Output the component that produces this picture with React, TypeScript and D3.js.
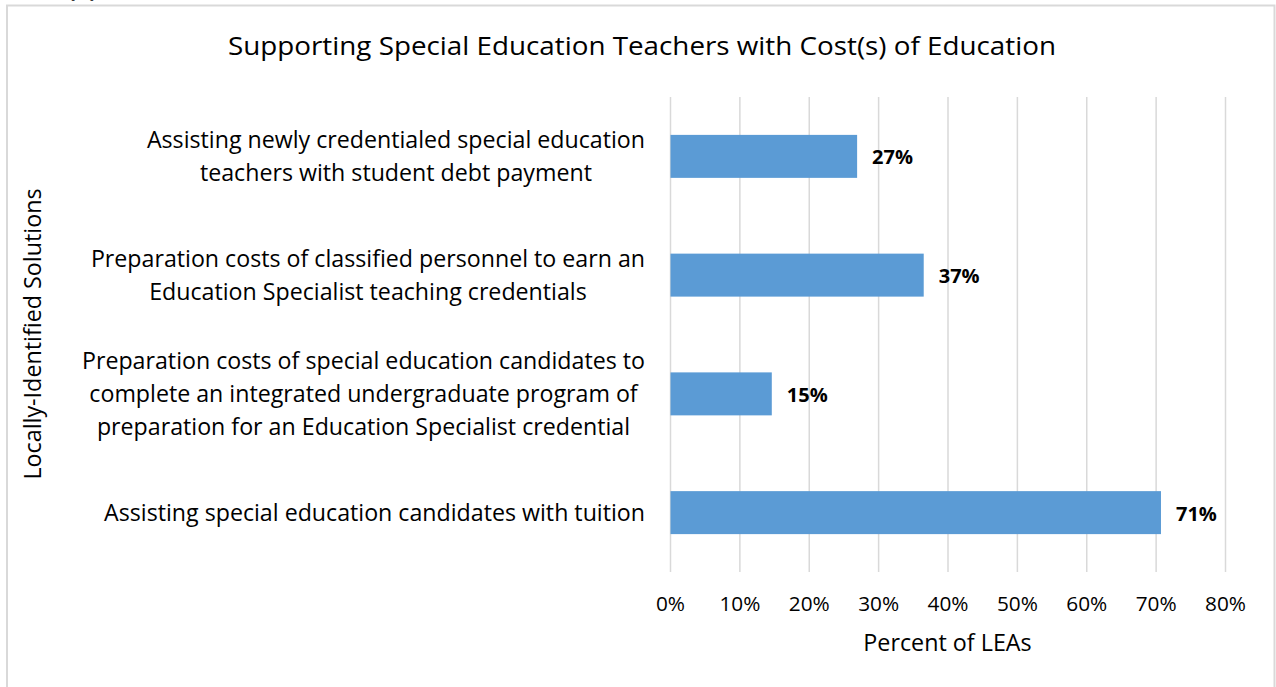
import React from "react";
import * as d3 from "d3";

const categories: string[][] = [
  ["Assisting newly credentialed special education", "teachers with student debt payment"],
  ["Preparation costs of classified personnel to earn an", "Education Specialist teaching credentials"],
  [
    "Preparation costs of special education candidates to",
    "complete an integrated undergraduate program of",
    "preparation for an Education Specialist credential",
  ],
  ["Assisting special education candidates with tuition"],
];
const values: number[] = [0.269, 0.365, 0.146, 0.707];
const valueLabels: string[] = ["27%", "37%", "15%", "71%"];
const ticks: number[] = [0, 0.1, 0.2, 0.3, 0.4, 0.5, 0.6, 0.7, 0.8];

const title = "Supporting Special Education Teachers with Cost(s) of Education";
const xTitle = "Percent of LEAs";
const yTitle = "Locally-Identified Solutions";

const W = 1276;
const H = 687;
const FONT = "'Open Sans', Lato, sans-serif";
const LABEL_SIZE = 23.2;

function measure(text: string, size: number): number {
  const c = document.createElement("canvas");
  const ctx = c.getContext("2d");
  if (!ctx) return text.length * size * 0.5;
  ctx.font = `${size}px ${FONT}`;
  return ctx.measureText(text).width;
}

export default function App() {
  const x = d3.scaleLinear().domain([0, 0.8]).range([670.5, 1225.5]);
  const ids = categories.map((_, i) => String(i));
  const y = d3
    .scaleBand<string>()
    .domain(ids)
    .range([97, 572])
    .paddingInner(0.638)
    .paddingOuter(0.319);
  const fmt = d3.format(".0%");
  const lineH = 33;
  const labelRight = 645;

  return (
    <svg
      width={W}
      height={H}
      style={{ position: "absolute", left: 0, top: 0, background: "#fff" }}
      fontFamily={FONT}
    >
      <rect x={0} y={0} width={W} height={H} fill="#fff" />
      <text x={68} y={-3} fontSize={22} fontWeight="bold" fill="#000">
        (b)
      </text>
      {/* chart border */}
      <path d={`M7,${H + 2} L7,5.5 L1274.5,5.5 L1274.5,${H + 2}`} fill="none" stroke="#d9d9d9" strokeWidth={2} />

      <text x={642} y={55} textAnchor="middle" fontSize={25.5} fill="#000" textLength={828} lengthAdjust="spacingAndGlyphs">
        {title}
      </text>

      {/* gridlines */}
      {ticks.map((t) => (
        <line key={t} x1={x(t)} x2={x(t)} y1={97} y2={572} stroke="#d9d9d9" strokeWidth={1.5} />
      ))}

      {/* bars */}
      {values.map((v, i) => (
        <rect
          key={i}
          x={x(0)}
          y={y(ids[i])!}
          width={x(v) - x(0)}
          height={y.bandwidth()}
          fill="#5b9bd5"
        />
      ))}

      {/* value labels */}
      {values.map((v, i) => (
        <text
          key={i}
          x={x(v) + 15}
          y={y(ids[i])! + y.bandwidth() / 2 + 1}
          dy="0.35em"
          fontSize={20}
          fontWeight="bold"
          fill="#000"
        >
          {valueLabels[i]}
        </text>
      ))}

      {/* category labels: block right-aligned, lines centred within block */}
      {categories.map((lines, i) => {
        const cy = y(ids[i])! + y.bandwidth() / 2;
        const n = lines.length;
        const maxW = Math.max(...lines.map((l) => measure(l, LABEL_SIZE)));
        const cx = labelRight - maxW / 2;
        return (
          <text key={i} x={cx} textAnchor="middle" fontSize={LABEL_SIZE} fill="#000">
            {lines.map((l, j) => (
              <tspan key={j} x={cx} y={cy + (j - (n - 1) / 2) * lineH} dy="0.35em">
                {l}
              </tspan>
            ))}
          </text>
        );
      })}

      {/* tick labels */}
      {ticks.map((t) => (
        <text key={t} x={x(t)} y={604} dy="0.35em" textAnchor="middle" fontSize={20.8} fill="#000">
          {fmt(t)}
        </text>
      ))}

      <text x={947.5} y={643} dy="0.35em" textAnchor="middle" fontSize={23.3} fill="#000">
        {xTitle}
      </text>

      <text
        transform={`translate(33,334) rotate(-90)`}
        dy="0.35em"
        textAnchor="middle"
        fontSize={23.3}
        fill="#000"
      >
        {yTitle}
      </text>
    </svg>
  );
}
